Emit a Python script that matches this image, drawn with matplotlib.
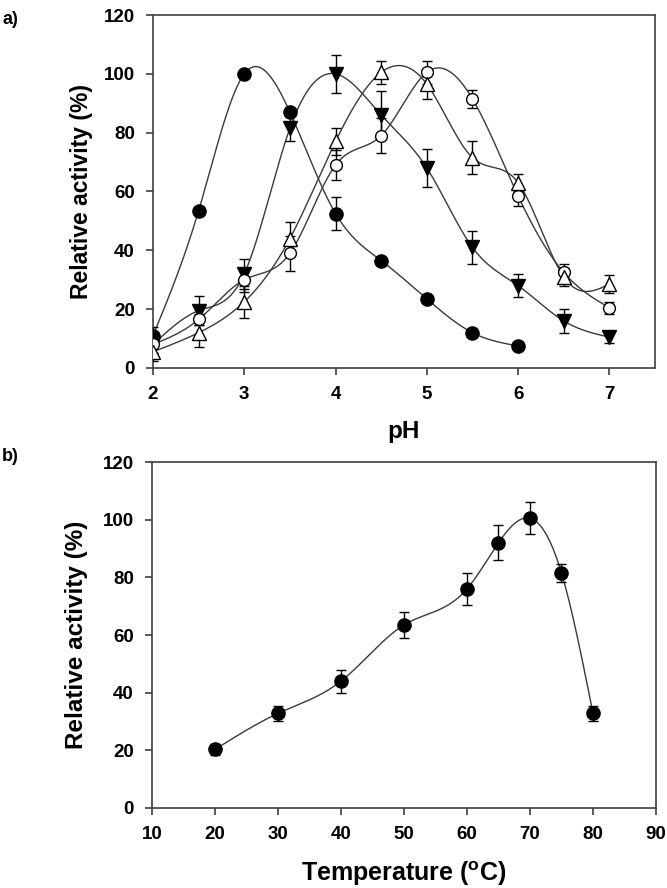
import numpy as np
import matplotlib
matplotlib.use("Agg")
import matplotlib.pyplot as plt

plt.rcParams['font.family'] = ['Liberation Sans', 'DejaVu Sans']
plt.rcParams['font.weight'] = 'bold'

# panel a) - pH profiles
ph = [2, 2.5, 3, 3.5, 4, 4.5, 5, 5.5, 6, 6.5, 7]
ph_short = [2, 2.5, 3, 3.5, 4, 4.5, 5, 5.5, 6]
circ_filled = [11, 53.5, 100, 87, 52.5, 36.5, 23.5, 12, 7.5]
circ_filled_err = [3, 1, 1, 1, 5.5, 1, 1, 1, 1]
tri_down = [8, 19.5, 32, 81.5, 100, 86, 68, 41, 28, 16, 10.5]
tri_down_err = [3, 5, 5, 4.5, 6.5, 8, 6.5, 5.5, 4, 4, 2]
circ_open = [8, 16.5, 30, 39, 69, 79, 100.5, 91.5, 58.5, 32.5, 20.5]
circ_open_err = [3, 2, 4, 6, 5, 6, 4, 3, 3.5, 3, 2]
tri_up = [5.5, 12, 22.5, 44, 77, 100.5, 96.5, 71.5, 63, 31, 28.5]
tri_up_err = [3, 5, 5.5, 5.5, 4.5, 4, 5, 5.5, 3, 3, 3]

# panel b) - temperature profile
temp = [20, 30, 40, 50, 60, 65, 70, 75, 80]
temp_act = [20.3, 32.8, 44, 63.5, 76, 92, 100.5, 81.5, 32.8]
temp_err = [2, 2.5, 4, 4.5, 5.5, 6, 5.5, 3, 2.5]


def smooth(x, y, n=300):
    # natural cubic spline, just for drawing the connecting curve
    x = np.asarray(x, float)
    y = np.asarray(y, float)
    k = len(x)
    h = np.diff(x)
    A = np.zeros((k, k))
    r = np.zeros(k)
    A[0, 0] = A[-1, -1] = 1
    for i in range(1, k - 1):
        A[i, i - 1] = h[i - 1]
        A[i, i] = 2 * (h[i - 1] + h[i])
        A[i, i + 1] = h[i]
        r[i] = 3 * ((y[i + 1] - y[i]) / h[i] - (y[i] - y[i - 1]) / h[i - 1])
    c = np.linalg.solve(A, r)
    b = (y[1:] - y[:-1]) / h - h * (2 * c[:-1] + c[1:]) / 3
    d = (c[1:] - c[:-1]) / (3 * h)
    xs = np.linspace(x[0], x[-1], n)
    idx = np.clip(np.searchsorted(x, xs) - 1, 0, k - 2)
    dx = xs - x[idx]
    return xs, y[idx] + b[idx] * dx + c[idx] * dx ** 2 + d[idx] * dx ** 3


LINE = '#3a3a3a'


def series(ax, x, y, err, marker, face, ms=9):
    xs, ys = smooth(x, y)
    ax.plot(xs, ys, color=LINE, lw=1.0, zorder=2)
    ax.errorbar(x, y, yerr=err, fmt='none', ecolor='black', elinewidth=1.0,
                capsize=3.5, capthick=1.0, zorder=3)
    ax.plot(x, y, linestyle='none', marker=marker, ms=ms, mfc=face,
            mec='black', mew=1.0, zorder=4)


def style(ax):
    for s in ax.spines.values():
        s.set_color('#404040')
        s.set_linewidth(1.2)
    ax.tick_params(direction='out', length=5, width=1.2, color='#404040',
                   labelsize=13.5, top=False, right=False, pad=8)
    for lab in ax.get_xticklabels() + ax.get_yticklabels():
        lab.set_fontweight('bold')


fig = plt.figure(figsize=(6.67, 8.88), dpi=100)

ax1 = fig.add_axes([0.2294, 0.5856, 0.7526, 0.3975])
series(ax1, ph_short, circ_filled, circ_filled_err, 'o', 'black', ms=9.5)
series(ax1, ph, tri_down, tri_down_err, 'v', 'black', ms=10)
series(ax1, ph, circ_open, circ_open_err, 'o', 'white', ms=8.5)
series(ax1, ph, tri_up, tri_up_err, '^', 'white', ms=10)
ax1.set_xlim(2, 7.5)
ax1.set_ylim(0, 120)
ax1.set_xticks([2, 3, 4, 5, 6, 7])
ax1.set_yticks(range(0, 121, 20))
ax1.set_xlabel('pH', fontsize=17.5, fontweight='bold', labelpad=12)
ax1.set_ylabel('Relative activity (%)', fontsize=16.5, fontweight='bold', labelpad=8)
style(ax1)

ax2 = fig.add_axes([0.2279, 0.0901, 0.7556, 0.3896])
series(ax2, temp, temp_act, temp_err, 'o', 'black', ms=9.5)
ax2.set_xlim(10, 90)
ax2.set_ylim(0, 120)
ax2.set_xticks(range(10, 91, 10))
ax2.set_yticks(range(0, 121, 20))
ax2.set_xlabel('Temperature ($\\mathregular{^{o}}$C)', fontsize=18, fontweight='bold', labelpad=12)
ax2.set_ylabel('Relative activity (%)', fontsize=17.5, fontweight='bold', labelpad=11)
style(ax2)

fig.text(0.003, 0.988, 'a)', fontsize=13, fontweight='bold', va='top')
fig.text(0.003, 0.496, 'b)', fontsize=13, fontweight='bold', va='top')

fig.savefig('out.png', dpi=100)
